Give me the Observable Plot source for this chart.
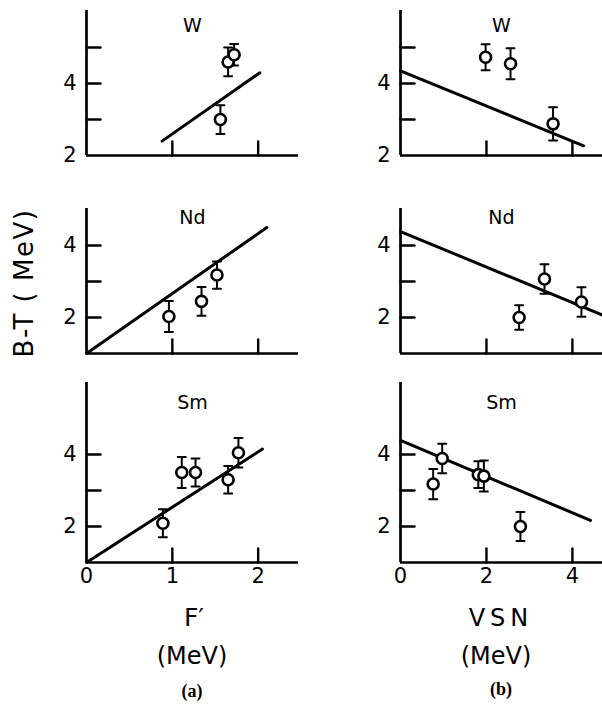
<!DOCTYPE html>
<html><head><meta charset="utf-8">
<script src="https://cdn.jsdelivr.net/npm/d3@7"></script>
<script src="https://cdn.jsdelivr.net/npm/@observablehq/plot@0.6"></script>
<style>
body{margin:0;background:#fff;}
#fig{position:relative;width:602px;height:708px;overflow:hidden;background:#fff;color:#000;font-family:"DejaVu Sans",sans-serif;}
.p{position:absolute;}
.lab{position:absolute;transform:translate(-50%,-50%);white-space:nowrap;}
</style></head><body><div id="fig"></div>
<script>
// ---- data ----
const elements = ["W", "Nd", "Sm"];

// (a) B-T vs F'
const wF_x = [1.56, 1.65, 1.72];
const wF_y = [3.0, 4.6, 4.8];
const wF_err = [0.4, 0.4, 0.3];
const wF_fitX = [0.88, 2.02];
const wF_fitY = [2.4, 4.3];

const ndF_x = [0.96, 1.34, 1.52];
const ndF_y = [2.03, 2.45, 3.18];
const ndF_err = [0.43, 0.4, 0.38];
const ndF_fitX = [0, 2.1];
const ndF_fitY = [1.0, 4.5];

const smF_x = [0.89, 1.11, 1.27, 1.65, 1.77];
const smF_y = [2.09, 3.5, 3.5, 3.3, 4.05];
const smF_err = [0.39, 0.43, 0.39, 0.38, 0.41];
const smF_fitX = [0, 2.05];
const smF_fitY = [1.0, 4.15];

// (b) B-T vs VSN
const wV_x = [1.98, 2.56, 3.55];
const wV_y = [4.73, 4.55, 2.88];
const wV_err = [0.36, 0.43, 0.46];
const wV_fitX = [0, 4.26];
const wV_fitY = [4.35, 2.27];

const ndV_x = [2.76, 3.35, 4.21];
const ndV_y = [2.0, 3.07, 2.43];
const ndV_err = [0.34, 0.41, 0.41];
const ndV_fitX = [0, 4.7];
const ndV_fitY = [4.39, 2.07];

const smV_x = [0.76, 0.97, 1.81, 1.94, 2.79];
const smV_y = [3.18, 3.89, 3.44, 3.4, 2.0];
const smV_err = [0.42, 0.41, 0.37, 0.43, 0.4];
const smV_fitX = [0, 4.42];
const smV_fitY = [4.39, 2.17];

// ticks
const fTickMarks = [1, 2];
const fTickLabels = [0, 1, 2];
const vTickMarks = [2, 4];
const vTickLabels = [0, 2, 4];
const yTickMarksTop = [3, 4, 5];
const yTickMarksLow = [2, 3, 4];
const yTickLabels = [2, 4];

// ---- drawing ----
const FONT = '"DejaVu Sans", sans-serif';
const line = {draw(ctx, l) { ctx.moveTo(0, 0); ctx.lineTo(0, -l); }};

const columns = [
  {left: 0, width: 310, mL: 86, mR: 12, xDomain: [0, 2.47], xMarks: fTickMarks, xLabels: fTickLabels,
   sets: [[wF_x, wF_y, wF_err, wF_fitX, wF_fitY], [ndF_x, ndF_y, ndF_err, ndF_fitX, ndF_fitY], [smF_x, smF_y, smF_err, smF_fitX, smF_fitY]]},
  {left: 310, width: 292, mL: 90, mR: 0, xDomain: [0, 4.7], xMarks: vTickMarks, xLabels: vTickLabels,
   sets: [[wV_x, wV_y, wV_err, wV_fitX, wV_fitY], [ndV_x, ndV_y, ndV_err, ndV_fitX, ndV_fitY], [smV_x, smV_y, smV_err, smV_fitX, smV_fitY]]}
];
const rows = [
  {top: 0, height: 175, mT: 10, mB: 20, yDomain: [2, 6.03], yMarks: yTickMarksTop, titleDy: 8, showX: false},
  {top: 190, height: 173, mT: 18, mB: 10, yDomain: [1, 5.03], yMarks: yTickMarksLow, titleDy: 2, showX: false},
  {top: 370, height: 222, mT: 12, mB: 30, yDomain: [1, 6.0], yMarks: yTickMarksLow, titleDy: 13, showX: true}
];

const fig = document.getElementById("fig");

columns.forEach(col => {
  rows.forEach((row, i) => {
    const [xs, ys, errs, fx, fy] = col.sets[i];
    const pts = xs.map((x, k) => ({x, y: ys[k], e: errs[k]}));
    const caps = pts.flatMap(d => [{x: d.x, y: d.y - d.e}, {x: d.x, y: d.y + d.e}]);
    const fit = fx.map((x, k) => ({x, y: fy[k]}));
    const x0 = col.xDomain[0], y0 = row.yDomain[0];
    const chart = Plot.plot({
      width: col.width, height: row.height,
      marginLeft: col.mL, marginRight: col.mR, marginTop: row.mT, marginBottom: row.mB,
      x: {domain: col.xDomain},
      y: {domain: row.yDomain},
      style: {fontFamily: FONT, background: "transparent", color: "#000", overflow: "visible"},
      marks: [
        Plot.ruleX([x0], {strokeWidth: 2.7}),
        Plot.ruleY([y0], {strokeWidth: 2.7}),
        Plot.vector(row.yMarks, {x: () => x0, y: d => d, length: 14, rotate: 90, anchor: "start", shape: line, strokeWidth: 2.4}),
        Plot.vector(col.xMarks, {x: d => d, y: () => y0, length: 14, rotate: 0, anchor: "start", shape: line, strokeWidth: 2.4}),
        Plot.axisY(yTickLabels, {tickSize: 0, tickPadding: 10, fontSize: 21, label: null}),
        Plot.axisX(row.showX ? col.xLabels : [], {tickSize: 0, tickPadding: 6, fontSize: 21, label: null}),
        Plot.text([elements[i]], {frameAnchor: "top", dy: row.titleDy, fontSize: 19, text: d => d}),
        Plot.line(fit, {x: "x", y: "y", strokeWidth: 3}),
        Plot.ruleX(pts, {x: "x", y1: d => d.y - d.e, y2: d => d.y + d.e, strokeWidth: 2}),
        Plot.vector(caps, {x: "x", y: "y", length: 8, rotate: 90, anchor: "middle", shape: line, strokeWidth: 2}),
        Plot.dot(pts, {x: "x", y: "y", r: 5.5, fill: "white", stroke: "black", strokeWidth: 2.6})
      ]
    });
    chart.classList.add("p");
    chart.style.left = col.left + "px";
    chart.style.top = row.top + "px";
    fig.appendChild(chart);
  });
});

// Text labels
function label(text, x, y, css) {
  const d = document.createElement("div");
  d.className = "lab";
  d.textContent = text;
  d.style.left = x + "px";
  d.style.top = y + "px";
  Object.assign(d.style, css || {});
  fig.appendChild(d);
}
label("B-T ( MeV)", 24, 283, {transform: "translate(-50%,-50%) rotate(-90deg)", fontSize: "26px", letterSpacing: "1.5px"});
label("F\u2032", 194, 617, {fontSize: "25px"});
label("(MeV)", 192, 656, {fontSize: "24px"});
label("(a)", 192, 691, {fontSize: "18px", fontWeight: "bold", fontFamily: '"Liberation Serif", serif'});
label("VSN", 501, 618, {fontSize: "24px", letterSpacing: "5px"});
label("(MeV)", 496, 656, {fontSize: "24px"});
label("(b)", 501, 689, {fontSize: "18px", fontWeight: "bold", fontFamily: '"Liberation Serif", serif'});
</script></body></html>
